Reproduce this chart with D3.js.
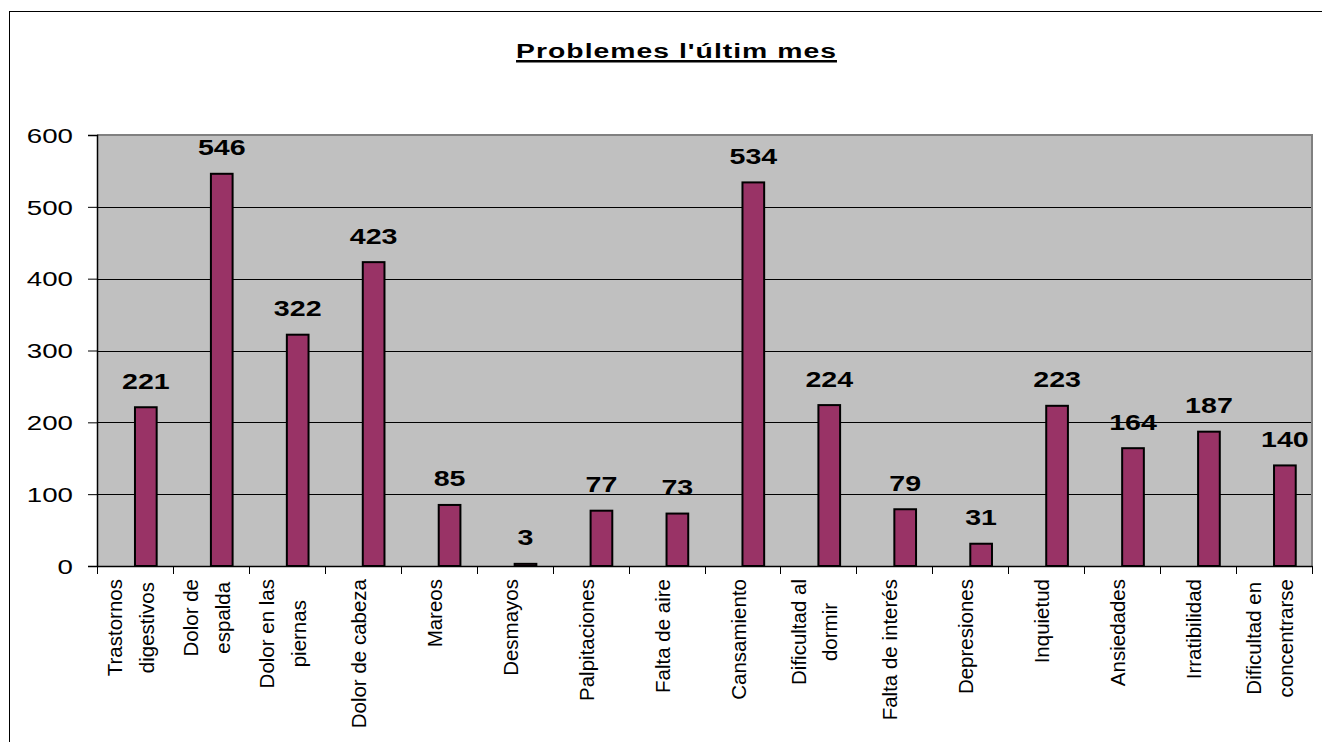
<!DOCTYPE html>
<html>
<head>
<meta charset="utf-8">
<script src="https://cdn.jsdelivr.net/npm/d3@7"></script>
<style>
  html, body { margin: 0; padding: 0; background: #ffffff; }
  svg { display: block; }
  text { font-family: "Liberation Sans", Arial, sans-serif; fill: #000; }
</style>
</head>
<body>
<svg id="chart" width="1332" height="742"></svg>
<script>
const title = "Problemes l'últim mes";
const categories = [
  ["Trastornos", "digestivos"],
  ["Dolor de", "espalda"],
  ["Dolor en las", "piernas"],
  ["Dolor de cabeza"],
  ["Mareos"],
  ["Desmayos"],
  ["Palpitaciones"],
  ["Falta de aire"],
  ["Cansamiento"],
  ["Dificultad al", "dormir"],
  ["Falta de interés"],
  ["Depresiones"],
  ["Inquietud"],
  ["Ansiedades"],
  ["Irratibilidad"],
  ["Dificultad en", "concentrarse"]
];
const values = [221, 546, 322, 423, 85, 3, 77, 73, 534, 224, 79, 31, 223, 164, 187, 140];
const yTicks = [0, 100, 200, 300, 400, 500, 600];

const SX = 1.35; // horizontal stretch of the original rendering
const svg = d3.select("#chart");

const plot = { left: 97, right: 1312, top: 135, bottom: 566 };
const keys = categories.map((c, i) => i);
const x = d3.scaleBand().domain(keys).range([plot.left, plot.right]).padding(0);
const y = d3.scaleLinear().domain([0, 600]).range([plot.bottom, plot.top]);
const bw = x.bandwidth();
const barW = bw / 3.5;

// outer frame (partially visible)
svg.append("line").attr("x1", 9.5).attr("x2", 9.5).attr("y1", 11).attr("y2", 742)
  .attr("stroke", "#000").attr("stroke-width", 1);
svg.append("line").attr("x1", 9).attr("x2", 1322).attr("y1", 11.5).attr("y2", 11.5)
  .attr("stroke", "#000").attr("stroke-width", 1);

// title
const tG = svg.append("g").attr("transform", `translate(676.5,57.5) scale(${SX},1)`);
const tT = tG.append("text").attr("text-anchor", "middle")
  .attr("font-size", 21).attr("font-weight", "bold").attr("letter-spacing", 0.75)
  .text(title);
const tLen = tT.node().getComputedTextLength() * SX;
svg.append("rect").attr("x", 676.5 - tLen / 2).attr("y", 60).attr("width", tLen).attr("height", 2.5)
  .attr("fill", "#000");

// plot background
svg.append("rect").attr("x", plot.left).attr("y", plot.top)
  .attr("width", plot.right - plot.left).attr("height", plot.bottom - plot.top)
  .attr("fill", "#c0c0c0");

// gridlines
svg.append("g").selectAll("line").data(yTicks.filter(t => t > 0 && t < 600)).join("line")
  .attr("x1", plot.left).attr("x2", plot.right)
  .attr("y1", d => Math.round(y(d)) + 0.5).attr("y2", d => Math.round(y(d)) + 0.5)
  .attr("stroke", "#000").attr("stroke-width", 1);

// top & right border (gray)
svg.append("path")
  .attr("d", `M${plot.left},${plot.top} H${plot.right} V${plot.bottom}`)
  .attr("fill", "none").attr("stroke", "#808080").attr("stroke-width", 2);

// bars
svg.append("g").selectAll("rect").data(values).join("rect")
  .attr("x", (d, i) => x(i) + bw / 2)
  .attr("y", d => y(d))
  .attr("width", barW)
  .attr("height", d => y(0) - y(d))
  .attr("fill", "#993366")
  .attr("stroke", "#000").attr("stroke-width", 2);

// y axis
const yAxis = d3.axisLeft(y).tickValues(yTicks).tickSize(9).tickPadding(0).tickFormat(d3.format("d"));
const yG = svg.append("g").attr("transform", `translate(${plot.left},0)`).call(yAxis);
yG.select(".domain").attr("stroke", "#000").attr("stroke-width", 1.5);
yG.selectAll(".tick line").attr("stroke", "#000").attr("stroke-width", 1);
yG.selectAll(".tick text").remove();
yG.selectAll(".tick").append("g")
  .attr("transform", `translate(-24,0) scale(${SX},1)`)
  .append("text").attr("text-anchor", "end").attr("dy", "0.35em")
  .attr("font-size", 20.5).text(d => d);

// x axis
const xAxis = d3.axisBottom(x).tickValues([]).tickSizeOuter(0);
const xG = svg.append("g").attr("transform", `translate(0,${plot.bottom})`).call(xAxis);
xG.select(".domain").attr("stroke", "#000").attr("stroke-width", 1.5);
// tick marks at band boundaries
const bounds = keys.map(k => x(k)).concat([plot.right]);
svg.append("g").selectAll("line").data(bounds).join("line")
  .attr("x1", d => Math.round(d) + 0.5).attr("x2", d => Math.round(d) + 0.5)
  .attr("y1", plot.bottom).attr("y2", plot.bottom + 8)
  .attr("stroke", "#000").attr("stroke-width", 1);

// x labels (rotated, multi-line centered)
const lh = 31.7;
const labelTop = 579;
categories.forEach((lines, i) => {
  const cx = x(i) + bw / 2;
  const g = svg.append("g").attr("transform", `translate(${cx},${labelTop}) rotate(-90)`);
  const texts = lines.map((ln, j) => g.append("text")
    .attr("font-size", 20.5).attr("text-anchor", "middle")
    .attr("y", (j - (lines.length - 1) / 2) * lh)
    .attr("dy", "0.15em")
    .text(ln));
  const L = d3.max(texts, t => t.node().getComputedTextLength());
  texts.forEach(t => t.attr("x", -L / 2));
});

// data labels
svg.append("g").selectAll("g").data(values).join("g")
  .attr("transform", (d, i) => `translate(${x(i) + bw / 2 + barW / 2},${y(d) - 18.5}) scale(1.3,1)`)
  .append("text").attr("text-anchor", "middle")
  .attr("font-size", 22).attr("font-weight", "bold")
  .text(d => d);
</script>
</body>
</html>
